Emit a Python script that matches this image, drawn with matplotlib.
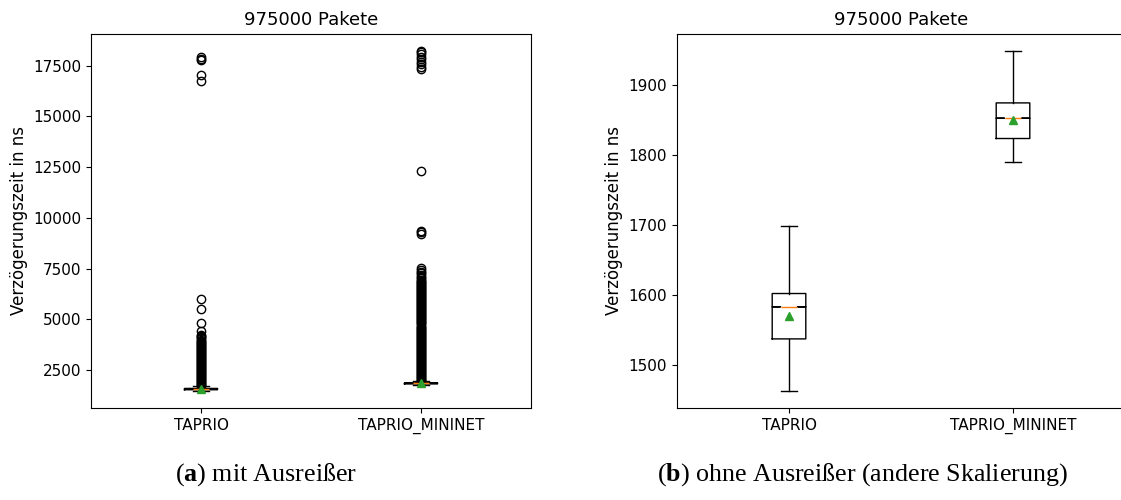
import matplotlib
matplotlib.use("Agg")
import matplotlib.pyplot as plt
import numpy as np

plt.rcParams["font.family"] = ["DejaVu Sans"]
plt.rcParams["mathtext.fontset"] = "custom"
plt.rcParams["mathtext.rm"] = "Liberation Serif"
plt.rcParams["mathtext.bf"] = "Liberation Serif:bold"

labels = ["TAPRIO", "TAPRIO_MININET"]
n_packets = 975000

# Kennwerte der Verzögerung in ns
medians = [1583, 1853]
q1 = [1537, 1824]
q3 = [1602, 1875]
whis_lo = [1462, 1790]
whis_hi = [1699, 1950]
means = [1570, 1851]

# Ausreißer oberhalb der Whisker
fliers_taprio = [
    1704, 1748, 1797, 1851, 1902, 1949, 1998, 2052, 2101, 2148,
    2203, 2251, 2297, 2349, 2402, 2451, 2498, 2552, 2600, 2649,
    2701, 2748, 2802, 2851, 2899, 2950, 3001, 3052, 3098, 3151,
    3202, 3249, 3301, 3352, 3398, 3450, 3503, 3551, 3598, 3650,
    3702, 3748, 3801, 3852, 3899, 3951, 4002, 4061, 4128, 4190,
    4252, 4430, 4810, 5530, 6020,
    16750, 17050, 17750, 17830, 17900,
]
fliers_mininet = [
    1953, 2001, 2049, 2102, 2150, 2198, 2251, 2302, 2349, 2400,
    2452, 2499, 2551, 2603, 2648, 2701, 2750, 2798, 2852, 2900,
    2949, 3002, 3051, 3099, 3150, 3203, 3248, 3301, 3350, 3399,
    3452, 3501, 3549, 3600, 3652, 3698, 3751, 3800, 3849, 3902,
    3950, 3999, 4052, 4101, 4148, 4200, 4253, 4299, 4350, 4401,
    4449, 4502, 4550, 4598, 4651, 4700, 4752, 4801, 4849, 4900,
    4953, 5001, 5049, 5100, 5152, 5198, 5250, 5302, 5349, 5400,
    5451, 5499, 5552, 5600, 5648, 5701, 5750, 5799, 5852, 5900,
    5949, 6002, 6051, 6099, 6150, 6203, 6248, 6301, 6350, 6399,
    6452, 6501, 6549, 6600, 6652, 6698, 6751, 6800, 6849, 6902,
    6960, 7030, 7110, 7190, 7270, 7350, 7450, 7530,
    9220, 9300, 9360, 12320,
    17340, 17450, 17560, 17660, 17800, 17940, 18080, 18180, 18240,
]
fliers = [fliers_taprio, fliers_mininet]


def make_stats():
    stats = []
    for i, name in enumerate(labels):
        iqr = q3[i] - q1[i]
        ci = 1.57 * iqr / np.sqrt(n_packets)
        stats.append(dict(label=name, med=medians[i], q1=q1[i], q3=q3[i],
                          whislo=whis_lo[i], whishi=whis_hi[i],
                          mean=means[i], cilo=medians[i] - ci,
                          cihi=medians[i] + ci, fliers=fliers[i]))
    return stats


fig = plt.figure(figsize=(11.21, 5.0), dpi=100)
ax1 = fig.add_axes([91 / 1121, 0.1834, 440 / 1121, 0.7496])
ax2 = fig.add_axes([677 / 1121, 0.1834, 448 / 1121, 0.7496])

ax1.bxp(make_stats(), showmeans=True, shownotches=True, showfliers=True,
        widths=0.15)
ax2.bxp(make_stats(), showmeans=True, shownotches=True, showfliers=False,
        widths=0.15)
ax2.set_xlim(0.5, 0.5 + 448 / 224)

for ax in (ax1, ax2):
    ax.set_title("975000 Pakete", fontsize=13)
    ax.set_ylabel("Verzögerungszeit in ns", fontsize=12)
    ax.tick_params(labelsize=11)

fig.text(266 / 1121, 0.05, r"($\mathbf{a}$) mit Ausreißer",
         ha="center", va="center", family="Liberation Serif", fontsize=18.7)
fig.text(863 / 1121, 0.05, r"($\mathbf{b}$) ohne Ausreißer (andere Skalierung)",
         ha="center", va="center", family="Liberation Serif", fontsize=18.7)

fig.savefig("out.png", dpi=100)
